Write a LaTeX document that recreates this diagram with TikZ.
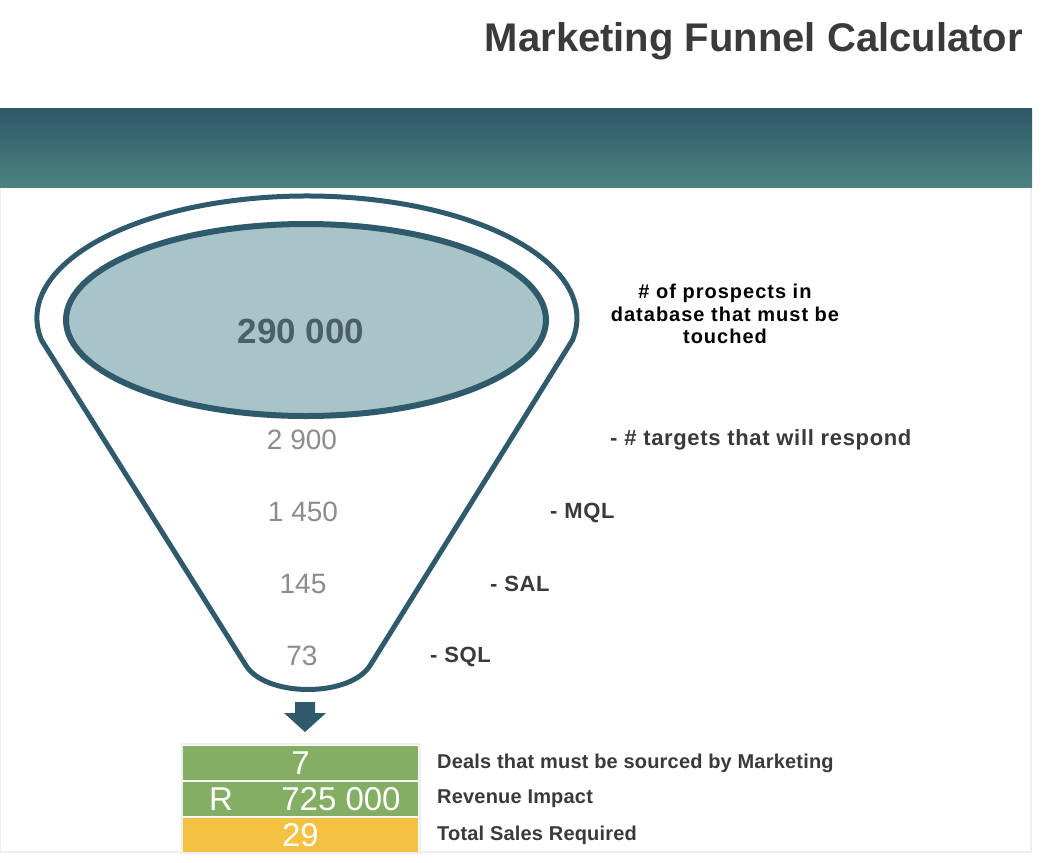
\documentclass[tikz,border=0pt]{standalone}
\usepackage{fontspec}
\setmainfont{Liberation Sans}
\usetikzlibrary{shapes.arrows}
\definecolor{teal1}{HTML}{2E5A6B}
\definecolor{bandtop}{HTML}{2E5868}
\definecolor{bandbot}{HTML}{4B8280}
\definecolor{innerfill}{HTML}{A8C4C8}
\definecolor{bignum}{HTML}{4A6068}
\definecolor{numgray}{HTML}{8C8C8C}
\definecolor{lbl}{HTML}{3A3A3C}
\definecolor{dealgreen}{HTML}{84AE64}
\definecolor{salesyellow}{HTML}{F4C142}
\definecolor{frame}{HTML}{EEEEF0}
\tikzset{
  stagenum/.style={text=numgray, font=\fontsize{28}{30}\selectfont, inner sep=0pt},
  stagelbl/.style={text=lbl, font=\bfseries\fontsize{22}{24}\selectfont\addfontfeature{LetterSpace=3}, anchor=west, inner sep=0pt},
  rowbox/.style={minimum width=235pt, minimum height=34pt, inner sep=0pt, text=white, font=\fontsize{33}{34}\selectfont},
  rowtxt/.style={text=white, font=\fontsize{33}{34}\selectfont, inner sep=0pt},
  rowlbl/.style={text=lbl, font=\bfseries\fontsize{20}{22}\selectfont\addfontfeature{LetterSpace=1}, anchor=west, inner sep=0pt},
}
\begin{document}
\begin{tikzpicture}[x=1pt,y=-1pt]
\useasboundingbox (0,0) rectangle (1060,862);
\fill[white] (0,0) rectangle (1060,862);
% frame
\draw[frame, line width=1.5pt] (0,187) rectangle (1031,852);
% header band
\shade[top color=bandtop, bottom color=bandbot] (0,108) rectangle (1032,187);
% title
\node[anchor=east, inner sep=0pt, text=lbl, font=\bfseries\fontsize{40}{44}\selectfont] (title) at (1023,41) {Marketing Funnel Calculator};
% outer funnel
\draw[teal1, line width=5pt, line join=round] (41.4,340) arc[start angle=169.6, end angle=370.4, x radius=270, y radius=122] -- (371,664) .. controls (352,698) and (264,698) .. (245,664) -- cycle;
% inner ellipse
\draw[teal1, fill=innerfill, line width=6pt] (306,320) ellipse[x radius=240, y radius=96];
\node[text=bignum, font=\bfseries\fontsize{35}{36}\selectfont, inner sep=0pt] (prospects) at (301,331) {290 000};
% stage numbers
\node[stagenum] (n1) at (302,440) {2 900};
\node[stagenum] (n2) at (303,512) {1 450};
\node[stagenum] (n3) at (303,584) {145};
\node[stagenum] (n4) at (302,656) {73};
% labels
\node[align=center, text=black, font=\bfseries\fontsize{20}{22.5}\selectfont\addfontfeature{LetterSpace=5}, inner sep=0pt] (plbl) at (725,314) {\# of prospects in\\database that must be\\touched};
\node[stagelbl] (l1) at (610,440) {- \# targets that will respond};
\node[stagelbl] (l2) at (550,513) {- MQL};
\node[stagelbl] (l3) at (490,584) {- SAL};
\node[stagelbl] (l4) at (430,657) {- SQL};
% arrow
\fill[teal1] (295,702) -- (315,702) -- (315,713) -- (326,713) -- (305,732) -- (284,713) -- (295,713) -- cycle;
\coordinate (arrowtip) at (305,732);
% boxes
\draw[frame, line width=1.5pt] (182,744) rectangle (420,853);
\node[rowbox, fill=dealgreen] (deals) at (300.5,763) {7};
\node[rowbox, fill=dealgreen] (rev) at (300.5,799) {};
\node[rowtxt] (revR) at (221,799) {R};
\node[rowtxt] (revV) at (341,799) {725 000};
\node[rowbox, fill=salesyellow] (sales) at (300.5,835) {29};
\node[rowlbl] (dl) at (437,763) {Deals that must be sourced by Marketing};
\node[rowlbl] (rl) at (437,799) {Revenue Impact};
\node[rowlbl] (sl) at (437,835) {Total Sales Required};
\end{tikzpicture}
\end{document}
